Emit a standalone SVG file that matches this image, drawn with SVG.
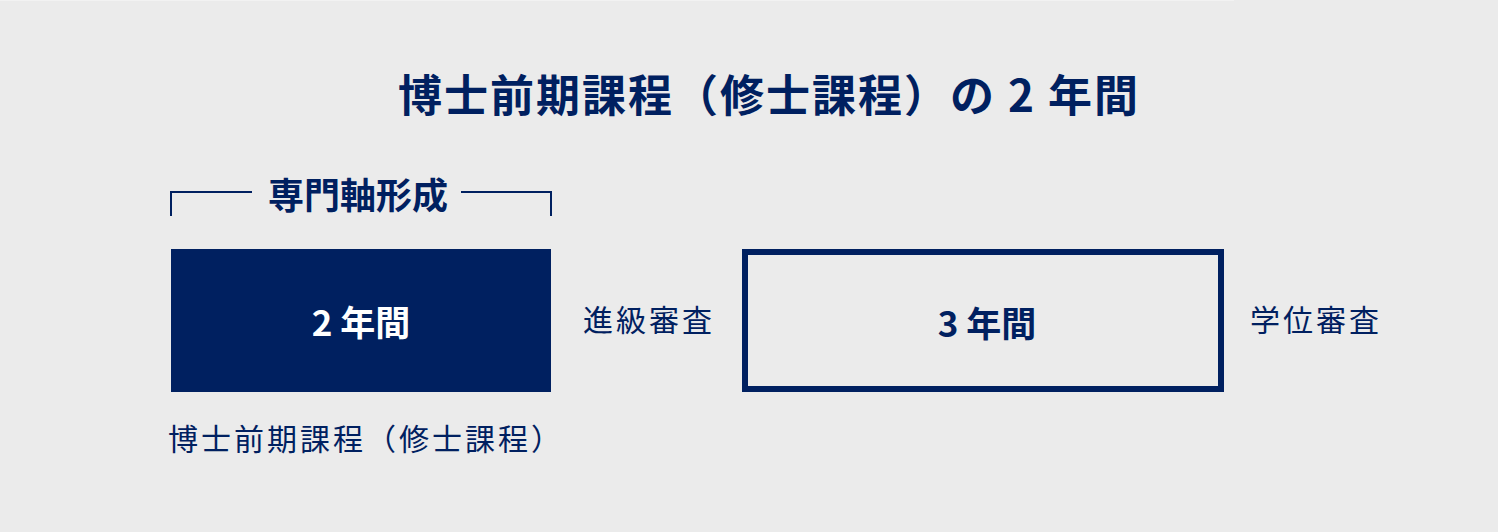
<svg xmlns="http://www.w3.org/2000/svg" width="1498" height="532" viewBox="0 0 1498 532">
<style>
.t{font-family:"Noto Sans CJK JP","Noto Sans CJK SC",sans-serif;fill:#002060}
.b{font-weight:bold}
.r{font-weight:normal;font-size:30px;letter-spacing:3px}
.w{fill:#ffffff}
.ln{stroke:#002060;stroke-width:2;fill:none}
</style>
<rect x="0" y="0" width="1498" height="532" fill="#ebebeb"/>
<rect x="0" y="0" width="1234" height="1" fill="#f2f2f2"/>
<g id="title">
<text class="t b" x="398" y="112" font-size="44" letter-spacing="2">博士前期課程（修士課程）の 2 年間</text>
</g>
<g id="bracket">
<path class="ln" d="M171,216 V192 H252 M461,192 H551 V216"/>
<text class="t b" x="358" y="209" font-size="36" text-anchor="middle">専門軸形成</text>
</g>
<g id="node-master">
<rect x="171" y="249" width="380" height="143" fill="#002060"/>
<text class="t b w" x="361" y="336" font-size="35" text-anchor="middle">2 年間</text>
</g>
<g id="label-master">
<text class="t r" x="168" y="450">博士前期課程（修士課程）</text>
</g>
<g id="label-shinkyu">
<text class="t r" x="583" y="331">進級審査</text>
</g>
<g id="node-doctor">
<rect x="745" y="252" width="476" height="137" fill="none" stroke="#002060" stroke-width="6"/>
<text class="t b" x="987" y="337" font-size="35" text-anchor="middle">3 年間</text>
</g>
<g id="label-gakui">
<text class="t r" x="1250" y="331">学位審査</text>
</g>
<g id="connectors"></g>
</svg>
